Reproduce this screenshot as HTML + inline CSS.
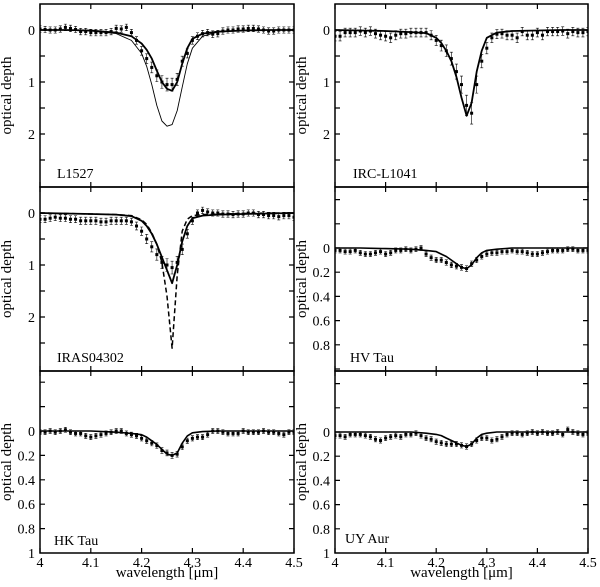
<!DOCTYPE html>
<html><head><meta charset="utf-8"><style>
html,body{margin:0;padding:0;background:#fff}
svg text{font-family:"Liberation Serif",serif;fill:#000}
</style></head><body>
<svg id="fig" width="600" height="582" viewBox="0 0 600 582" xmlns="http://www.w3.org/2000/svg"></svg>
<script>
// model wavelength grid
const modelX=[4.0,4.05,4.1,4.15,4.18,4.2,4.21,4.22,4.23,4.24,4.25,4.26,4.27,4.28,4.29,4.3,4.32,4.35,4.4,4.45,4.5];
const xTicks=[4.0,4.1,4.2,4.3,4.4,4.5];
const xTickLabels=["4","4.1","4.2","4.3","4.4","4.5"];
const l1527Thick=[0,0,0.01,0.05,0.12,0.26,0.38,0.55,0.78,1.0,1.13,1.17,1.0,0.65,0.35,0.17,0.07,0.03,0.01,0,0];
const l1527Thin=[0,0,0.02,0.07,0.2,0.45,0.7,1.05,1.45,1.75,1.85,1.82,1.55,1.1,0.65,0.35,0.12,0.04,0.01,0,0];
const ircModel=[0,0.01,0.02,0.04,0.06,0.15,0.25,0.4,0.6,0.9,1.3,1.65,1.4,0.8,0.4,0.15,0.05,0.02,0.01,0,0];
const irasSolid=[0,0.01,0.02,0.03,0.06,0.15,0.25,0.4,0.6,0.85,1.1,1.35,1.0,0.55,0.25,0.1,0.05,0.03,0.02,0.01,0];
const irasDashed=[0,0.01,0.02,0.03,0.05,0.13,0.22,0.38,0.6,0.95,1.6,2.6,1.2,0.35,0.12,0.05,0.03,0.02,0.01,0,0];
const hvModel=[0,0,0.005,0.01,0.02,0.03,0.05,0.07,0.1,0.13,0.16,0.17,0.14,0.08,0.04,0.02,0.01,0,0,0,0];
const hkModel=[0,0,0,0.01,0.02,0.03,0.05,0.08,0.11,0.15,0.19,0.2,0.18,0.1,0.04,0.015,0.005,0,0,0,0];
const uyModel=[0,0,0,0,0.01,0.02,0.03,0.05,0.07,0.09,0.11,0.12,0.1,0.05,0.02,0.01,0,0,0,0,0];
// observed data (51 points evenly spaced 4.00..4.50)
const l1527Data=[-0.02,-0.01,0,0,-0.02,-0.05,-0.03,-0.01,0.03,0.03,0.05,0.05,0.05,0.05,0.03,-0.03,-0.02,-0.05,0.05,0.2,0.4,0.55,0.72,0.88,1.0,1.05,1.05,0.95,0.6,0.45,0.2,0.12,0.07,0.05,0.08,0.07,0.02,0,0,-0.02,-0.02,-0.03,-0.03,-0.02,0,0.02,0.02,0,0,0,0];
const ircData=[0.12,0.12,0.05,0.05,0.05,0.02,0.05,0.02,0.07,0.1,0.12,0.15,0.1,0.07,0.07,0.05,0.05,0.05,0.05,0.1,0.2,0.3,0.4,0.55,0.8,1.05,1.45,1.6,1.05,0.6,0.35,0.15,0.08,0.07,0.1,0.1,0.15,0.03,0.1,0.1,0.05,0.1,0.03,0.03,0.03,0.02,0.07,0.03,0.05,0.05,0.03];
const irasData=[0.12,0.12,0.1,0.08,0.1,0.1,0.12,0.12,0.15,0.15,0.15,0.15,0.17,0.17,0.15,0.15,0.15,0.15,0.17,0.25,0.35,0.5,0.65,0.8,0.95,1.0,1.05,0.95,0.7,0.4,0.15,0.0,-0.05,-0.02,0,0,0.02,0.02,0.03,0.02,0.02,0,0,0.03,0.03,0.05,0.05,0.07,0.05,0.05,0.08];
const hvData=[0.02,0.02,0.03,0.03,0.02,0.04,0.05,0.05,0.04,0.03,0.05,0.04,0.02,0.02,0.01,0.02,0.01,0,0.05,0.08,0.1,0.1,0.12,0.14,0.15,0.16,0.17,0.13,0.1,0.07,0.05,0.04,0.04,0.03,0.03,0.02,0.03,0.03,0.04,0.05,0.05,0.04,0.03,0.02,0.02,0.02,0.01,0.01,0.02,0.02,0.02];
const hkData=[0.01,0.01,0,0.01,0,-0.01,0.01,0.02,0.02,0.04,0.05,0.04,0.03,0.02,0.01,0,0,0.02,0.03,0.04,0.06,0.08,0.1,0.12,0.16,0.18,0.2,0.19,0.13,0.08,0.06,0.05,0.05,0.03,0,0,0.01,0.02,0.02,0.02,0,0.01,0.01,0.01,0,0.01,0.01,0.02,0.03,0.01,0.01];
const uyData=[0.03,0.03,0.04,0.02,0.02,0.02,0.03,0.04,0.06,0.07,0.05,0.04,0.03,0.04,0.02,0.02,0.01,0.03,0.05,0.06,0.08,0.09,0.1,0.1,0.1,0.11,0.12,0.1,0.07,0.05,0.05,0.07,0.06,0.04,0.02,0.01,0.01,0.02,0.01,0,0.01,0,0.01,0.01,0,0.02,-0.02,0,0.01,0.02,0.01];

const NS="http://www.w3.org/2000/svg";
const svg=document.getElementById('fig');
function mk(tag,attrs,parent){const e=document.createElementNS(NS,tag);for(const k in attrs)e.setAttribute(k,attrs[k]);(parent||svg).appendChild(e);return e;}

const panels=[
 {name:'l1527',x0:40,x1:294,top:4,bot:187,y0:30,s:52,labels:[0,1,2],lt:["0","1","2"],ticks:[0,0.5,1,1.5,2,2.5],title:'L1527',tx:57,ty:178,
  models:[{d:l1527Thick,w:1.8},{d:l1527Thin,w:0.9}],data:l1527Data,err:0.06},
 {name:'irc-l1041',x0:335,x1:588,top:4,bot:187,y0:30,s:52,labels:[0,1,2],lt:["0","1","2"],ticks:[0,0.5,1,1.5,2,2.5],title:'IRC-L1041',tx:353,ty:178,
  models:[{d:ircModel,w:1.8}],data:ircData,err:0.08},
 {name:'iras04302',x0:40,x1:294,top:187,bot:371,y0:213,s:52,labels:[0,1,2],lt:["0","1","2"],ticks:[0,0.5,1,1.5,2,2.5],title:'IRAS04302',tx:57,ty:362,
  models:[{d:irasSolid,w:1.8},{d:irasDashed,w:1.5,dash:'5,3'}],data:irasData,err:0.06},
 {name:'hv-tau',x0:335,x1:588,top:187,bot:371,y0:248,s:121,labels:[0,0.2,0.4,0.6,0.8],lt:["0","0.2","0.4","0.6","0.8"],ticks:[-0.4,-0.2,0,0.2,0.4,0.6,0.8,1.0],title:'HV Tau',tx:350,ty:362,
  models:[{d:hvModel,w:1.6}],data:hvData,err:0.02},
 {name:'hk-tau',x0:40,x1:294,top:371,bot:553,y0:431,s:122,labels:[0,0.2,0.4,0.6,0.8,1],lt:["0","0.2","0.4","0.6","0.8","1"],ticks:[-0.4,-0.2,0,0.2,0.4,0.6,0.8],title:'HK Tau',tx:54,ty:545,xl:true,
  models:[{d:hkModel,w:1.6}],data:hkData,err:0.02},
 {name:'uy-aur',x0:335,x1:588,top:371,bot:553,y0:432,s:121,labels:[0,0.2,0.4,0.6,0.8,1],lt:["0","0.2","0.4","0.6","0.8","1"],ticks:[-0.4,-0.2,0,0.2,0.4,0.6,0.8],title:'UY Aur',tx:345,ty:543,xl:true,
  models:[{d:uyModel,w:1.6}],data:uyData,err:0.02}
];

panels.forEach(p=>{
  const g=mk('g',{});
  
  
  const X=v=>p.x0+(v-4)/0.5*(p.x1-p.x0);
  const Y=v=>p.y0+v*p.s;
  const clip=mk('clipPath',{id:'c'+p.name},g);
  mk('rect',{x:p.x0,y:p.top,width:p.x1-p.x0,height:p.bot-p.top},clip);
  xTicks.forEach((t,i)=>{
    const tk=mk('path',{d:`M${X(t)},${p.bot}v-5M${X(t)},${p.top}v5`,stroke:'#000','stroke-width':1.2},g);
    
    
    if(p.xl){const tl=mk('text',{x:X(t),y:p.bot+14,'font-size':14,'text-anchor':'middle'},g);tl.textContent=xTickLabels[i];
      }
  });
  p.ticks.forEach(t=>{
    const tk=mk('path',{d:`M${p.x0},${Y(t)}h5M${p.x1},${Y(t)}h-5`,stroke:'#000','stroke-width':1.2},g);
    
    
  });
  p.labels.forEach((t,i)=>{
    const tl=mk('text',{x:p.x0-5,y:Y(t)+5,'font-size':14,'text-anchor':'end'},g);tl.textContent=p.lt[i];
    
  });
  const cg=mk('g',{'clip-path':`url(#c${p.name})`},g);
  p.models.forEach((m,mi)=>{
    const pts=modelX.map((x,i)=>X(x).toFixed(1)+','+Y(m.d[i]).toFixed(1)).join(' ');
    const pl=mk('polyline',{points:pts,fill:'none',stroke:'#000','stroke-width':m.w,'stroke-dasharray':m.dash||'none','stroke-linejoin':'round'},cg);
    
    
  });
  const n=p.data.length;
  p.data.forEach((v,i)=>{
    const x=X(4+i*0.5/(n-1));
    const e=p.err*(1+Math.abs(v));
    const eb=mk('path',{d:`M${x},${Y(v-e)}V${Y(v+e)}M${x-1.5},${Y(v-e)}h3M${x-1.5},${Y(v+e)}h3`,stroke:'#000','stroke-width':0.6},cg);
    
    
    const pt=mk('rect',{x:x-1.5,y:Y(v)-1.5,width:3,height:3,fill:'#000'},cg);
    
    
  });
  const fr=mk('rect',{x:p.x0,y:p.top,width:p.x1-p.x0,height:p.bot-p.top,fill:'none',stroke:'#000','stroke-width':1.5},g);
  
  
  const tt=mk('text',{x:p.tx,y:p.ty,'font-size':14},g);tt.textContent=p.title;
  
  
  const yl=mk('text',{x:0,y:0,'font-size':15,'text-anchor':'middle',transform:`translate(${p.x0-29},${(p.top+p.bot)/2}) rotate(-90)`},g);
  yl.textContent='optical depth';
  
  
  if(p.xl){const xl=mk('text',{x:(p.x0+p.x1)/2,y:577,'font-size':15,'text-anchor':'middle'},g);xl.textContent='wavelength [μm]';
    }
});
</script>
</body></html>
